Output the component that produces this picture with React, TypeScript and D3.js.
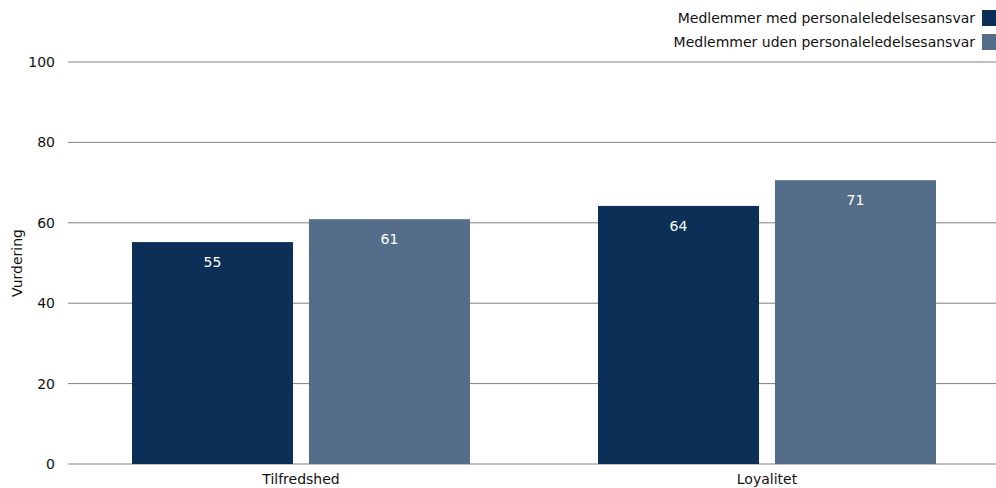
import React from "react";
import * as d3 from "d3";

const categories = ["Tilfredshed", "Loyalitet"];
const seriesNames = ["Medlemmer med personaleledelsesansvar", "Medlemmer uden personaleledelsesansvar"];
const seriesWith = [55.2, 64.2];
const seriesWithout = [60.9, 70.6];
const yTicks = [0, 20, 40, 60, 80, 100];
const colors = ["#0b2f56", "#546e89"];

const W = 996;
const H = 488;
const FONT = "DejaVu Sans, Verdana, sans-serif";

export default function App() {
  const x0 = d3.scaleBand<string>().domain(categories).range([68, 1000]).paddingInner(0).paddingOuter(0);
  const x1 = d3.scaleBand<number>().domain([0, 1]).range([64, x0.bandwidth() - 64]).paddingInner(0.09);
  const y = d3.scaleLinear().domain([0, 100]).range([464, 62]);
  const series = [seriesWith, seriesWithout];

  return (
    <svg width={W} height={H} style={{ position: "absolute", left: 0, top: 0 }} fontFamily={FONT}>
      {yTicks.map((t) => (
        <g key={t}>
          <line x1={68} x2={W} y1={y(t)} y2={y(t)} stroke="#808080" strokeWidth={1} />
          <text x={55} y={y(t)} dy="0.35em" textAnchor="end" fontSize={14} fill="#111">{t}</text>
        </g>
      ))}
      <text transform={`translate(22,263) rotate(-90)`} textAnchor="middle" fontSize={14} fill="#111">Vurdering</text>
      {categories.map((c, ci) => (
        <g key={c} transform={`translate(${x0(c)},0)`}>
          {series.map((s, si) => {
            const v = s[ci];
            const bx = x1(si)!;
            const bw = x1.bandwidth();
            return (
              <g key={si}>
                <rect x={bx} y={y(v)} width={bw} height={y(0) - y(v)} fill={colors[si]} />
                <text x={bx + bw / 2} y={y(v) + 20} dy="0.35em" textAnchor="middle" fontSize={14} fill="#ffffff">{Math.round(v)}</text>
              </g>
            );
          })}
          <text x={x0.bandwidth() / 2} y={479} dy="0.35em" textAnchor="middle" fontSize={14} fill="#111">{c}</text>
        </g>
      ))}
      {seriesNames.map((n, i) => (
        <g key={n}>
          <text x={975} y={18 + i * 24} dy="0.35em" textAnchor="end" fontSize={14} fill="#111">{n}</text>
          <rect x={982} y={10 + i * 24} width={14} height={16} fill={colors[i]} />
        </g>
      ))}
    </svg>
  );
}
